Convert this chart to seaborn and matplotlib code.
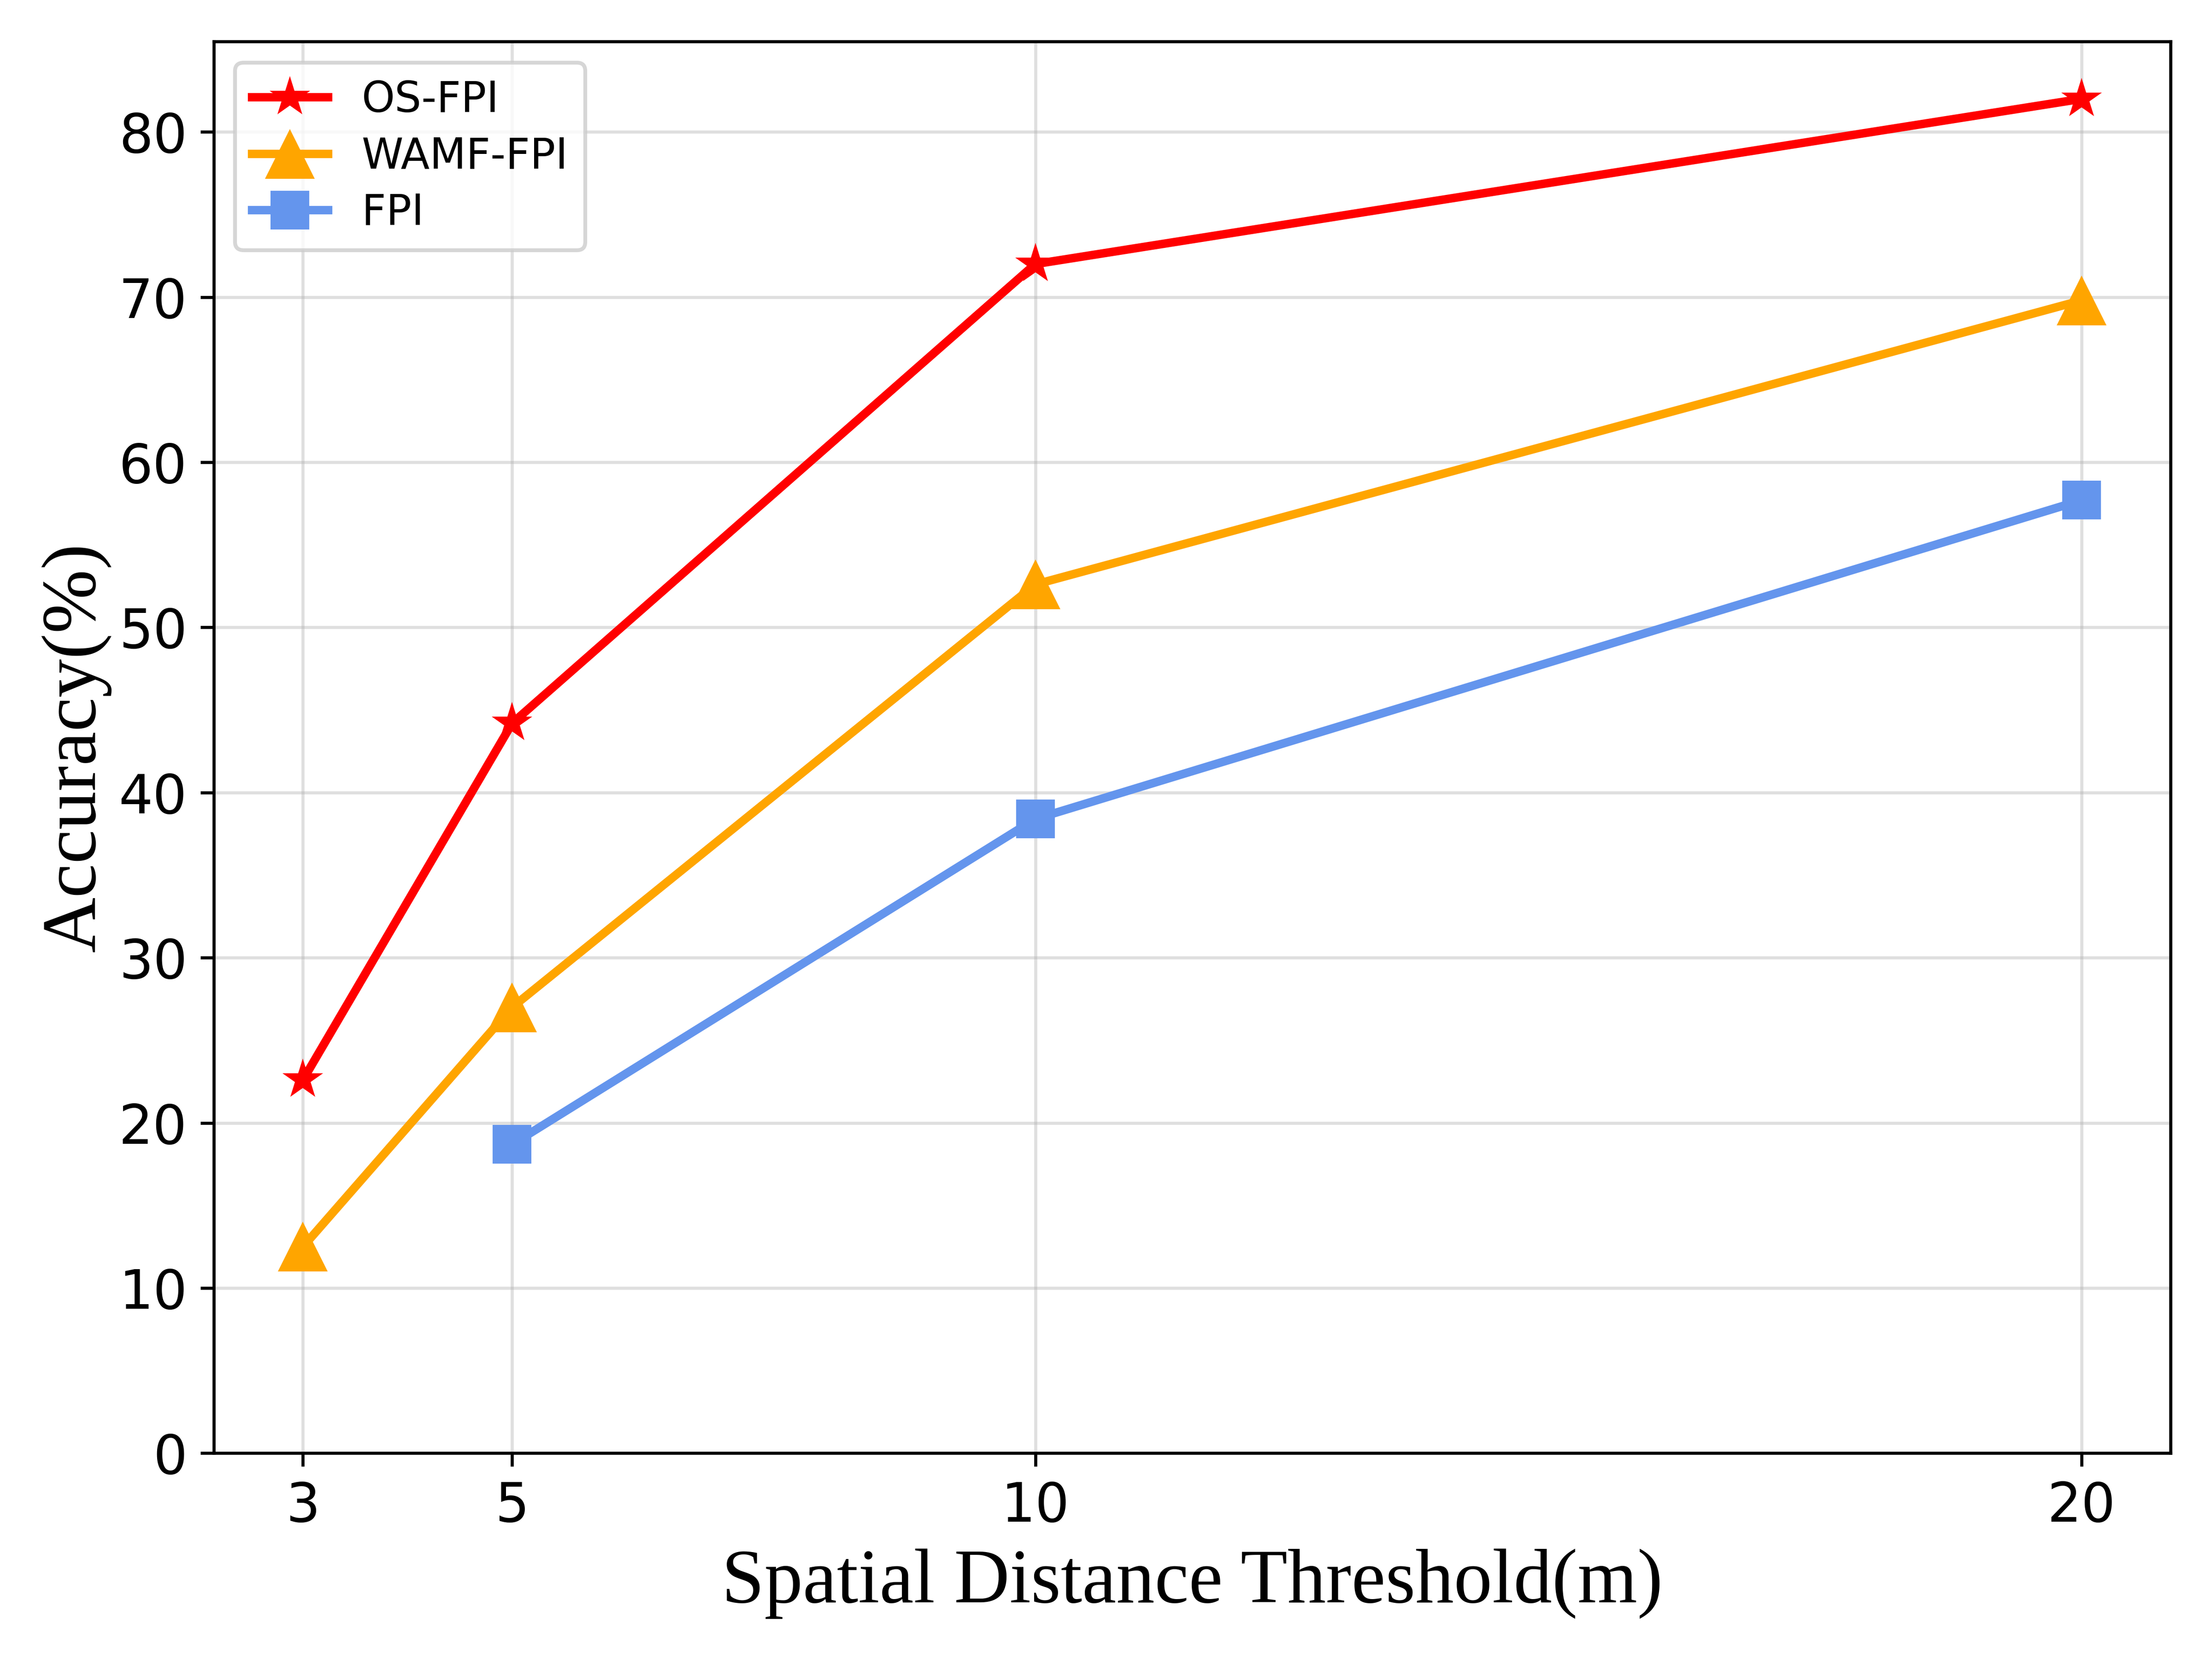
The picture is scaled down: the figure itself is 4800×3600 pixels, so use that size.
import matplotlib
matplotlib.use("Agg")
import matplotlib.pyplot as plt
import seaborn as sns
import pandas as pd
import numpy as np

thresholds = [3, 5, 10, 20]
os_fpi = [22.6, 44.2, 72.0, 82.0]
wamf_fpi = [12.5, 27.0, 52.6, 69.8]
fpi = [np.nan, 18.7, 38.4, 57.7]

data = pd.DataFrame({
    "Threshold": thresholds,
    "OS-FPI": os_fpi,
    "WAMF-FPI": wamf_fpi,
    "FPI": fpi,
})

plt.figure(figsize=(8, 6))
ax = plt.gca()
sns.lineplot(x="Threshold", y="OS-FPI", data=data, marker="*", markersize=11,
             color="red", linewidth=2.2, markeredgewidth=0, label="OS-FPI", ax=ax)
sns.lineplot(x="Threshold", y="WAMF-FPI", data=data, marker="^", markersize=13,
             color="orange", linewidth=2.2, markeredgewidth=0, label="WAMF-FPI", ax=ax)
sns.lineplot(x="Threshold", y="FPI", data=data.dropna(), marker="s", markersize=10,
             color="cornflowerblue", linewidth=2.2, markeredgewidth=0, label="FPI", ax=ax)

ax.set_xticks(thresholds)
ax.set_ylim(bottom=0)
ax.tick_params(labelsize=14)
ax.set_xlabel("Spatial Distance Threshold(m)", fontsize=20, family=["Liberation Serif", "DejaVu Serif"])
ax.set_ylabel("Accuracy(%)", fontsize=20, family=["Liberation Serif", "DejaVu Serif"], labelpad=2)
ax.grid(True, alpha=0.4)
ax.legend(loc="upper left", fontsize=11, labelspacing=0.35, handlelength=1.8)
plt.tight_layout()
plt.savefig("out.png", dpi=600)
